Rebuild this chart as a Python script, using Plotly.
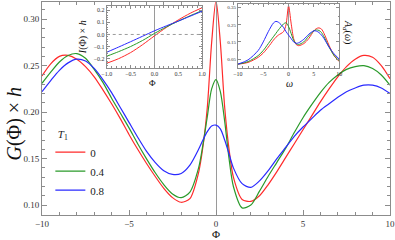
import plotly.graph_objects as go

# ---------------- data ----------------
phi = [-10, -9.5, -9, -8.5, -8, -7.5, -7, -6.5, -6, -5.5, -5, -4.5, -4, -3.5, -3, -2.5, -2, -1.5, -1,
       -0.75, -0.5, -0.25, 0, 0.25, 0.5, 0.75, 1, 1.5, 2, 2.5, 3, 3.5, 4, 4.5, 5, 5.5, 6, 6.5, 7, 7.5,
       8, 8.5, 9, 9.5, 10]
g_t0 = [0.239, 0.252, 0.260, 0.261, 0.257, 0.249, 0.238, 0.224, 0.209, 0.193, 0.176, 0.160, 0.145, 0.131,
        0.118, 0.108, 0.103, 0.107, 0.135, 0.163, 0.205, 0.275, 0.320, 0.275, 0.205, 0.160, 0.130, 0.106,
        0.104, 0.110, 0.122, 0.136, 0.151, 0.166, 0.181, 0.196, 0.211, 0.225, 0.238, 0.249, 0.257, 0.261,
        0.259, 0.250, 0.236]
g_t04 = [0.231, 0.243, 0.254, 0.261, 0.263, 0.258, 0.246, 0.232, 0.215, 0.199, 0.183, 0.166, 0.150, 0.135,
         0.122, 0.112, 0.108, 0.114, 0.140, 0.165, 0.195, 0.225, 0.235, 0.222, 0.190, 0.150, 0.120, 0.097,
         0.100, 0.115, 0.131, 0.146, 0.161, 0.178, 0.194, 0.208, 0.221, 0.232, 0.240, 0.246, 0.249, 0.250,
         0.247, 0.240, 0.229]
g_t08 = [0.222, 0.234, 0.245, 0.253, 0.257, 0.255, 0.247, 0.235, 0.221, 0.205, 0.189, 0.173, 0.158, 0.146,
         0.137, 0.133, 0.134, 0.143, 0.160, 0.170, 0.179, 0.185, 0.186, 0.182, 0.170, 0.155, 0.140, 0.123,
         0.119, 0.126, 0.137, 0.150, 0.162, 0.174, 0.184, 0.193, 0.202, 0.209, 0.216, 0.222, 0.226, 0.229,
         0.229, 0.226, 0.220]

phi_in = [-1, -0.75, -0.5, -0.25, 0, 0.25, 0.5, 0.75, 1]
i_t0 = [-0.238, -0.200, -0.150, -0.085, -0.012, 0.058, 0.120, 0.175, 0.221]
i_t04 = [-0.180, -0.142, -0.100, -0.050, 0.008, 0.062, 0.110, 0.155, 0.197]
i_t08 = [-0.147, -0.104, -0.060, -0.015, 0.030, 0.071, 0.110, 0.151, 0.192]

omega = [-10, -8, -6, -5, -4, -3, -2.5, -2, -1, -0.5, 0, 0.5, 1, 1.5, 2, 3, 4, 5, 5.5, 6, 6.5, 7, 8, 9, 10]
a_t0 = [0.020, 0.030, 0.060, 0.085, 0.120, 0.160, 0.177, 0.190, 0.210, 0.250, 0.360, 0.260, 0.170, 0.135,
        0.128, 0.140, 0.170, 0.215, 0.228, 0.232, 0.225, 0.200, 0.130, 0.070, 0.035]
a_t04 = [0.020, 0.035, 0.070, 0.100, 0.140, 0.180, 0.200, 0.220, 0.255, 0.262, 0.240, 0.200, 0.160, 0.140,
         0.135, 0.150, 0.185, 0.215, 0.220, 0.217, 0.205, 0.180, 0.120, 0.070, 0.040]
a_t08 = [0.020, 0.045, 0.100, 0.150, 0.210, 0.260, 0.270, 0.265, 0.235, 0.210, 0.190, 0.170, 0.150, 0.142,
         0.145, 0.165, 0.195, 0.215, 0.213, 0.205, 0.190, 0.170, 0.120, 0.080, 0.050]

t_labels = ["0", "0.4", "0.8"]
colors = ["#ff2a2a", "#2a9a2a", "#2a2aff"]

SERIF = "Liberation Serif, Times New Roman, serif"
FRAME = "#8c8c8c"

fig = go.Figure()

main_sets = [g_t0, g_t04, g_t08]
inset1_sets = [i_t0, i_t04, i_t08]
inset2_sets = [a_t0, a_t04, a_t08]

for lab, col, ys in zip(t_labels, colors, main_sets):
    fig.add_trace(go.Scatter(x=phi, y=ys, mode="lines", name=lab,
                             line=dict(color=col, width=1.2, shape="spline", smoothing=0.8),
                             xaxis="x", yaxis="y"))
for col, ys in zip(colors, inset1_sets):
    fig.add_trace(go.Scatter(x=phi_in, y=ys, mode="lines", showlegend=False,
                             line=dict(color=col, width=1.0, shape="spline", smoothing=0.8),
                             xaxis="x2", yaxis="y2"))
for col, ys in zip(colors, inset2_sets):
    fig.add_trace(go.Scatter(x=omega, y=ys, mode="lines", showlegend=False,
                             line=dict(color=col, width=1.0, shape="spline", smoothing=0.8),
                             xaxis="x3", yaxis="y3"))

def frame_axis(**kw):
    d = dict(showline=True, linecolor=FRAME, linewidth=1, mirror="allticks",
             ticks="inside", tickcolor=FRAME, showgrid=False,
             tickfont=dict(family=SERIF, color="#333", size=9))
    d.update(kw)
    return d

fig.update_layout(
    width=395, height=240,
    margin=dict(l=42, r=3, t=1, b=25),
    paper_bgcolor="white", plot_bgcolor="white",
    showlegend=True,
    legend=dict(x=0.024, y=0.43, xanchor="left", yanchor="top",
                bgcolor="rgba(0,0,0,0)",
                font=dict(family=SERIF, size=11, color="#222"),
                title=dict(text="&nbsp;&nbsp;<i>T</i><sub>1</sub>", font=dict(family=SERIF, size=11, color="#222")),
                tracegroupgap=0, itemwidth=30),
    xaxis=frame_axis(domain=[0, 1], range=[-10, 10], tickvals=[-10, -5, 0, 5, 10],
                     ticklen=5, zeroline=True, zerolinecolor="#9a9a9a", zerolinewidth=1,
                     minor=dict(dtick=1, ticklen=3, ticks="inside", tickcolor=FRAME)),
    yaxis=frame_axis(domain=[0, 1], range=[0.0893, 0.3185], tickvals=[0.10, 0.15, 0.20, 0.25, 0.30],
                     tickformat=".2f", ticklen=5, zeroline=False,
                     minor=dict(dtick=0.01, ticklen=3, ticks="inside", tickcolor=FRAME)),
    xaxis2=frame_axis(domain=[0.186, 0.46], anchor="y2", range=[-1, 1],
                      tickvals=[-1, -0.5, 0, 0.5, 1], tickformat=".1f", ticklen=3,
                      tickfont=dict(family=SERIF, size=6, color="#333"),
                      zeroline=True, zerolinecolor="#9a9a9a", zerolinewidth=1,
                      minor=dict(dtick=0.1, ticklen=1.5, ticks="inside", tickcolor=FRAME)),
    yaxis2=frame_axis(domain=[0.692, 0.981], anchor="x2", range=[-0.274, 0.235],
                      tickvals=[-0.2, -0.1, 0.0, 0.1, 0.2], tickformat=".1f", ticklen=3,
                      tickfont=dict(family=SERIF, size=6, color="#333"), zeroline=False,
                      minor=dict(dtick=0.02, ticklen=1.5, ticks="inside", tickcolor=FRAME)),
    xaxis3=frame_axis(domain=[0.563, 0.854], anchor="y3", range=[-10, 10],
                      tickvals=[-10, -5, 0, 5, 10], ticklen=3,
                      tickfont=dict(family=SERIF, size=6, color="#333"),
                      zeroline=True, zerolinecolor="#9a9a9a", zerolinewidth=1,
                      minor=dict(dtick=1, ticklen=1.5, ticks="inside", tickcolor=FRAME)),
    yaxis3=frame_axis(domain=[0.692, 0.991], anchor="x3", range=[0, 0.372],
                      tickvals=[0.05, 0.15, 0.25, 0.35], tickformat=".2f", ticklen=3,
                      tickfont=dict(family=SERIF, size=5, color="#333"), zeroline=False,
                      minor=dict(dtick=0.05, ticklen=1.5, ticks="inside", tickcolor=FRAME)),
)

# dotted zero line in inset 1
fig.add_shape(type="line", xref="x2 domain", yref="y2", x0=0, x1=1, y0=0, y1=0,
              line=dict(color="#9a9a9a", width=1, dash="dot"))

ann = [
    dict(text="<i>G</i>(Φ) × <i>h</i>", x=-0.08, y=0.43, textangle=-90, size=20),
    dict(text="Φ", x=0.5, y=-0.087, textangle=0, size=11),
    dict(text="<i>I</i>(Φ) × <i>h</i>", x=0.118, y=0.835, textangle=-90, size=10),
    dict(text="Φ", x=0.318, y=0.618, textangle=0, size=9),
    dict(text="<i>ω</i>", x=0.711, y=0.618, textangle=0, size=10),
    dict(text="<i>A</i><sub><i>d</i></sub>(<i>ω</i>)", x=0.876, y=0.86, textangle=90, size=10),
]
for a in ann:
    fig.add_annotation(text=a["text"], xref="paper", yref="paper", x=a["x"], y=a["y"],
                       xanchor="center", yanchor="middle",
                       showarrow=False, textangle=a["textangle"],
                       font=dict(family=SERIF, size=a["size"], color="#111"))

fig.write_html("out.html", config={"displayModeBar": False},
               post_script="document.body.style.margin='0px';")
